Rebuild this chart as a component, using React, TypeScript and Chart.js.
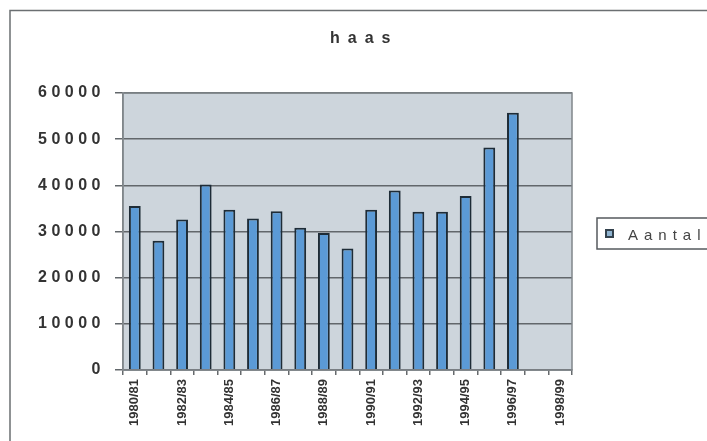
import React, { useEffect, useRef } from "react";
import { Chart, registerables } from "chart.js";

Chart.register(...registerables);

const TITLE = "haas";
const SERIES_NAME = "Aantal";
const SEASONS = [
  "1980/81", "1981/82", "1982/83", "1983/84", "1984/85", "1985/86", "1986/87",
  "1987/88", "1988/89", "1989/90", "1990/91", "1991/92", "1992/93", "1993/94",
  "1994/95", "1995/96", "1996/97", "1997/98", "1998/99",
];
const AANTAL: (number | null)[] = [
  35500, 28000, 32600, 40200, 34700, 32800, 34400, 30800, 29700, 26300,
  34700, 38900, 34300, 34300, 37700, 48200, 55700, null, null,
];
const Y_MIN = 0;
const Y_MAX = 60000;
const Y_STEP = 10000;

const FONT = "'Liberation Sans', Arial, sans-serif";

const decorPlugin = {
  id: "decor",
  beforeDraw(chart: any) {
    const { ctx, chartArea } = chart;
    ctx.save();
    ctx.fillStyle = "#ffffff";
    ctx.fillRect(0, 0, chart.width, chart.height);
    ctx.fillStyle = "#cdd5dc";
    ctx.fillRect(chartArea.left, chartArea.top, chartArea.right - chartArea.left, chartArea.bottom - chartArea.top);
    ctx.restore();
    const ys = chart.scales.y;
    if (ys && !ys.__spaced) {
      const orig = ys.drawLabels.bind(ys);
      ys.drawLabels = (ca: any) => {
        const c = ys.ctx;
        c.save();
        c.letterSpacing = "4.5px";
        orig(ca);
        c.restore();
      };
      ys.__spaced = true;
    }
  },
  afterDraw(chart: any) {
    const { ctx, chartArea } = chart;
    ctx.save();
    // plot frame
    ctx.strokeStyle = "#80868b";
    ctx.lineWidth = 1.5;
    ctx.strokeRect(chartArea.left, chartArea.top, chartArea.right - chartArea.left, chartArea.bottom - chartArea.top);
    // outer frame
    ctx.strokeStyle = "#6b6f72";
    ctx.lineWidth = 1.5;
    ctx.beginPath();
    ctx.moveTo(10, chart.height);
    ctx.lineTo(10, 10.5);
    ctx.lineTo(chart.width, 10.5);
    ctx.stroke();
    // title
    ctx.fillStyle = "#333333";
    ctx.font = `bold 16px ${FONT}`;
    ctx.letterSpacing = "8px";
    ctx.textAlign = "left";
    ctx.textBaseline = "alphabetic";
    ctx.fillText(TITLE, 330, 43);
    // legend
    ctx.letterSpacing = "0px";
    ctx.fillStyle = "#ffffff";
    ctx.fillRect(597, 218, 120, 31);
    ctx.strokeStyle = "#555a5e";
    ctx.lineWidth = 1.5;
    ctx.strokeRect(597, 218, 120, 31);
    ctx.fillStyle = "#33424d";
    ctx.fillRect(605, 229, 9, 9);
    ctx.fillStyle = "#8fb3d0";
    ctx.fillRect(607, 231, 5, 5);
    ctx.fillStyle = "#444444";
    ctx.font = `15px ${FONT}`;
    ctx.letterSpacing = "6px";
    ctx.fillText(SERIES_NAME, 628, 240);
    ctx.restore();
  },
};

export default function App() {
  const ref = useRef<HTMLCanvasElement | null>(null);
  useEffect(() => {
    if (!ref.current) return;
    const chart = new Chart(ref.current, {
      type: "bar",
      data: {
        labels: SEASONS,
        datasets: [
          {
            label: SERIES_NAME,
            data: AANTAL,
            backgroundColor: "#5b9ad6",
            borderColor: "#1e2c37",
            borderWidth: 2,
            categoryPercentage: 1,
            barPercentage: 0.5,
          },
        ],
      },
      options: {
        responsive: false,
        animation: false,
        devicePixelRatio: 1,
        layout: { padding: { left: 0, right: 135, top: 93, bottom: 0 } },
        plugins: {
          legend: { display: false },
          title: { display: false },
          tooltip: { enabled: false },
        },
        scales: {
          x: {
            offset: true,
            grid: {
              offset: true,
              drawOnChartArea: false,
              drawTicks: true,
              tickLength: 5,
              color: "#666a6d",
              lineWidth: 1.5,
            },
            border: { display: true, color: "#666a6d", width: 1.5 },
            ticks: {
              autoSkip: false,
              minRotation: 90,
              maxRotation: 90,
              padding: 4,
              color: "#333333",
              font: { family: FONT, size: 13, weight: "bold" },
              callback: (_v: any, i: number) => (i % 2 === 0 ? SEASONS[i] : ""),
            },
            afterFit: (s: any) => {
              s.height = 71;
            },
          },
          y: {
            min: Y_MIN,
            max: Y_MAX,
            grid: {
              color: "#62676b",
              lineWidth: 1.5,
              tickLength: 8,
              drawTicks: true,
            },
            border: { display: true, color: "#80868b", width: 1.5 },
            ticks: {
              stepSize: Y_STEP,
              padding: 10,
              color: "#333333",
              font: { family: FONT, size: 16, weight: "bold" },
              callback: (v: any) => String(v),
            },
            afterFit: (s: any) => {
              s.width = 123;
            },
          },
        },
      },
      plugins: [decorPlugin],
    });
    chart.draw();
    return () => chart.destroy();
  }, []);
  return (
    <div style={{ position: "absolute", left: 0, top: 0, width: 707, height: 441, background: "#fff" }}>
      <canvas ref={ref} width={707} height={441} />
    </div>
  );
}
